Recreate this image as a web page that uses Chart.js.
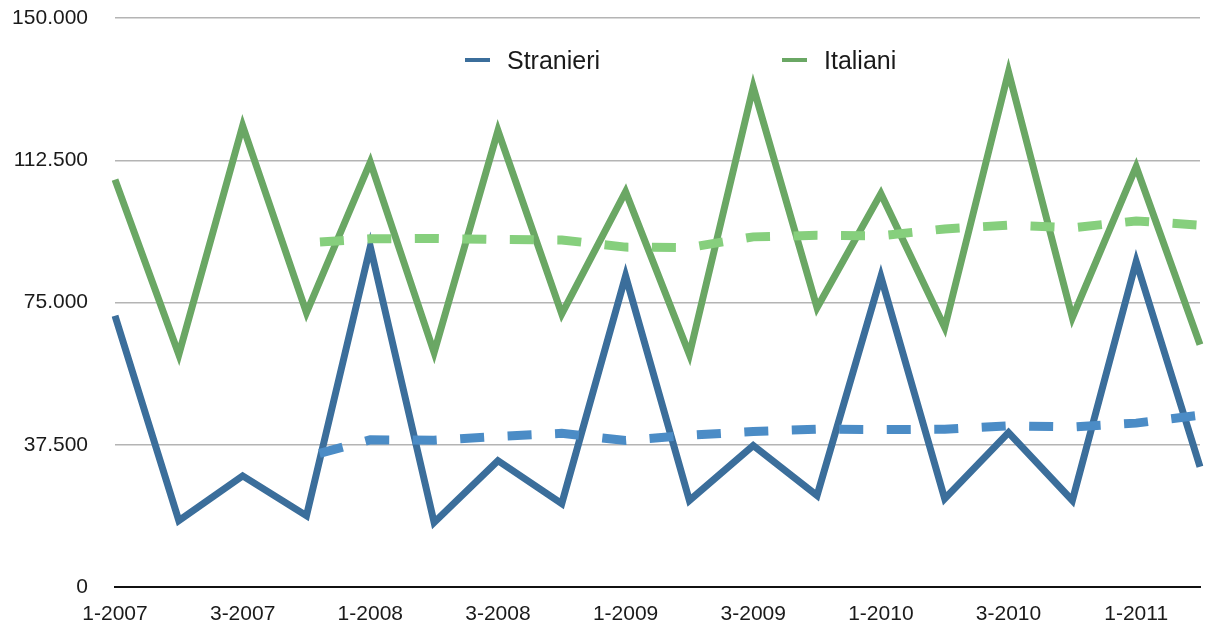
<!DOCTYPE html>
<html>
<head>
<meta charset="utf-8">
<title>Stranieri e Italiani</title>
<script src="https://cdn.jsdelivr.net/npm/chart.js@4/dist/chart.umd.min.js"></script>
<style>
  html, body { margin: 0; padding: 0; background: #ffffff; }
  #wrap { position: relative; width: 1207px; height: 626px; }
</style>
</head>
<body>
<div id="wrap"><canvas id="c"></canvas></div>
<script>
// Quarterly periods (quarter-year)
const categories = [
  '1-2007', '2-2007', '3-2007', '4-2007',
  '1-2008', '2-2008', '3-2008', '4-2008',
  '1-2009', '2-2009', '3-2009', '4-2009',
  '1-2010', '2-2010', '3-2010', '4-2010',
  '1-2011', '2-2011'
];

// Stranieri
const stranieri = [
  71500, 17500, 29300, 18800,
  89700, 17000, 33300, 22000,
  82000, 22800, 37300, 24100,
  81800, 23300, 40700, 22800,
  85800, 31700
];

// Italiani
const italiani = [
  107400, 61300, 121600, 72300,
  112000, 61800, 120300, 72000,
  104200, 61300, 131800, 73600,
  103700, 68400, 135800, 71000,
  110800, 63900
];

// 4-period moving average trend lines
const stranieriTrend = [
  null, null, null, 34300,
  38800, 38700, 39700, 40500,
  38600, 40000, 41000, 41600,
  41500, 41600, 42500, 42200,
  43200, 45300
];
const italianiTrend = [
  null, null, null, 90700,
  91800, 91900, 91600, 91500,
  89600, 89500, 92300, 92700,
  92600, 94400, 95400, 94700,
  96500, 95400
];

// Y axis tick labels (0 .. 150.000 in steps of 37.500)
const yTickLabels = ['0', '37.500', '75.000', '112.500', '150.000'];

const FONT = '"Liberation Sans", Arial, Helvetica, sans-serif';
const BLUE = '#3b6e9b';
const GREEN = '#6aa764';
const BLUE_LIGHT = '#4b8cc6';
const GREEN_LIGHT = '#86cf7d';

// Legend drawn inside the plot area, across the top
const insideLegend = {
  id: 'insideLegend',
  afterDatasetsDraw(chart) {
    const ctx = chart.ctx;
    const area = chart.chartArea;
    const items = [
      { ds: chart.data.datasets[0], x: area.left + 350 },
      { ds: chart.data.datasets[1], x: area.left + 667 }
    ];
    const y = area.top + 42;
    ctx.save();
    ctx.font = '25px ' + FONT;
    ctx.textBaseline = 'middle';
    ctx.textAlign = 'left';
    items.forEach(it => {
      ctx.strokeStyle = it.ds.borderColor;
      ctx.lineWidth = 4;
      ctx.lineCap = 'butt';
      ctx.beginPath();
      ctx.moveTo(it.x, y);
      ctx.lineTo(it.x + 25, y);
      ctx.stroke();
      ctx.fillStyle = '#1a1a1a';
      ctx.fillText(it.ds.label, it.x + 42, y + 2);
    });
    ctx.restore();
  }
};

new Chart(document.getElementById('c'), {
  type: 'line',
  data: {
    labels: categories,
    datasets: [
      {
        label: 'Stranieri',
        data: stranieri,
        borderColor: BLUE,
        borderWidth: 7,
        borderJoinStyle: 'miter',
        pointRadius: 0,
        tension: 0,
        order: 2
      },
      {
        label: 'Italiani',
        data: italiani,
        borderColor: GREEN,
        borderWidth: 7,
        borderJoinStyle: 'miter',
        pointRadius: 0,
        tension: 0,
        order: 2
      },
      {
        label: 'Media mobile Stranieri',
        data: stranieriTrend,
        borderColor: BLUE_LIGHT,
        borderWidth: 9,
        borderDash: [24, 23.5],
        borderDashOffset: 34,
        borderCapStyle: 'butt',
        pointRadius: 0,
        tension: 0,
        spanGaps: false,
        order: 1
      },
      {
        label: 'Media mobile Italiani',
        data: italianiTrend,
        borderColor: GREEN_LIGHT,
        borderWidth: 9,
        borderDash: [24, 23.5],
        borderDashOffset: 34,
        borderCapStyle: 'butt',
        pointRadius: 0,
        tension: 0,
        spanGaps: false,
        order: 1
      }
    ]
  },
  options: {
    responsive: true,
    maintainAspectRatio: false,
    animation: false,
    devicePixelRatio: 1,
    layout: { padding: { top: 18, right: 7, left: 0, bottom: 0 } },
    plugins: {
      legend: { display: false },
      tooltip: { enabled: false }
    },
    scales: {
      x: {
        type: 'category',
        offset: false,
        grid: { display: false, drawTicks: false },
        border: { display: true, color: '#111111', width: 2 },
        ticks: {
          autoSkip: false,
          maxRotation: 0,
          minRotation: 0,
          padding: 15,
          color: '#1a1a1a',
          font: { family: FONT, size: 21 },
          callback: (v, i) => (i % 2 === 0 ? categories[i] : '')
        },
        afterFit: (s) => { s.height = 39; s.paddingLeft = 0; s.paddingRight = 0; }
      },
      y: {
        min: 0,
        max: 150000,
        grid: { color: '#b4b4b4', lineWidth: 1.5, drawTicks: false },
        border: { display: false },
        ticks: {
          stepSize: 37500,
          padding: 27,
          color: '#1a1a1a',
          font: { family: FONT, size: 21 },
          callback: (v, i) => yTickLabels[i]
        },
        afterFit: (s) => { s.width = 115; s.paddingTop = 0; s.paddingBottom = 0; }
      }
    }
  },
  plugins: [insideLegend]
});
</script>
</body>
</html>
